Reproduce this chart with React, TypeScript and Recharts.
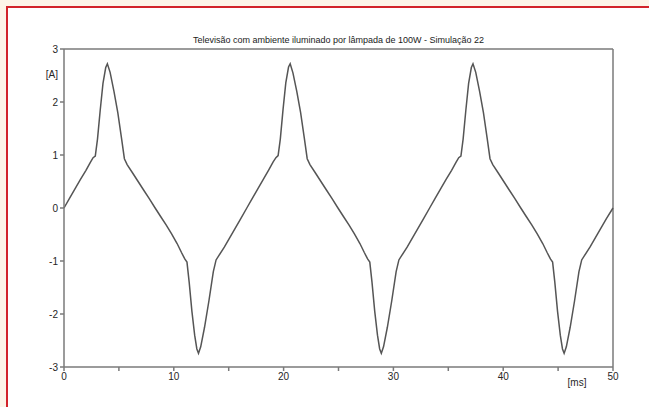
import React from 'react';
import { LineChart, Line, XAxis, YAxis, ReferenceLine } from 'recharts';

const chartTitle = 'Televisão com ambiente iluminado por lâmpada de 100W - Simulação 22';
const xUnit = '[ms]';
const yUnit = '[A]';

const timeMs = [
  0, 0.5, 1, 1.5, 2, 2.4, 2.65, 2.85, 3.05, 3.3, 3.55, 3.8, 3.95, 4.2, 4.55, 4.9, 5.25, 5.5, 5.75, 6.25, 6.75, 7.25, 7.75, 8.3,
  8.8, 9.3, 9.8, 10.3, 10.7, 11.0, 11.2, 11.4, 11.65, 11.9, 12.1, 12.25, 12.45, 12.8, 13.2, 13.6, 13.85, 14.1, 14.6, 15.1, 15.6, 16.1, 16.65,
  17.15, 17.65, 18.15, 18.65, 19.05, 19.3, 19.5, 19.7, 19.95, 20.2, 20.45, 20.6, 20.85, 21.2, 21.55, 21.9, 22.15, 22.4, 22.9, 23.4, 23.9, 24.4, 24.95,
  25.45, 25.95, 26.45, 26.95, 27.35, 27.65, 27.85, 28.05, 28.3, 28.55, 28.75, 28.9, 29.1, 29.45, 29.85, 30.25, 30.5, 30.75, 31.25, 31.75, 32.25, 32.75, 33.3,
  33.8, 34.3, 34.8, 35.3, 35.7, 35.95, 36.15, 36.35, 36.6, 36.85, 37.1, 37.25, 37.5, 37.85, 38.2, 38.55, 38.8, 39.05, 39.55, 40.05, 40.55, 41.05, 41.6,
  42.1, 42.6, 43.1, 43.6, 44.0, 44.3, 44.5, 44.7, 44.95, 45.2, 45.4, 45.55, 45.75, 46.1, 46.5, 46.9, 47.15, 47.4, 47.9, 48.4, 48.9, 49.4, 50,
];

const currentA = [
  0, 0.18, 0.36, 0.54, 0.71, 0.86, 0.95, 0.98, 1.3, 1.85, 2.35, 2.65, 2.72, 2.56, 2.2, 1.8, 1.3, 0.93, 0.82, 0.66, 0.5, 0.34, 0.18, 0.0,
  -0.16, -0.32, -0.49, -0.67, -0.84, -0.96, -1.02, -1.4, -1.95, -2.4, -2.66, -2.74, -2.62, -2.25, -1.75, -1.2, -0.98, -0.9, -0.74, -0.56, -0.38, -0.2, 0.0,
  0.18, 0.36, 0.54, 0.72, 0.87, 0.95, 0.99, 1.3, 1.86, 2.36, 2.66, 2.72, 2.55, 2.2, 1.8, 1.3, 0.93, 0.82, 0.66, 0.5, 0.34, 0.18, 0.0,
  -0.16, -0.32, -0.49, -0.67, -0.84, -0.96, -1.02, -1.4, -1.95, -2.4, -2.66, -2.74, -2.62, -2.25, -1.75, -1.2, -0.98, -0.9, -0.74, -0.56, -0.38, -0.2, 0.0,
  0.18, 0.36, 0.54, 0.71, 0.86, 0.95, 0.98, 1.3, 1.85, 2.35, 2.65, 2.72, 2.56, 2.2, 1.8, 1.3, 0.93, 0.82, 0.66, 0.5, 0.34, 0.18, 0.0,
  -0.16, -0.32, -0.49, -0.67, -0.84, -0.96, -1.02, -1.4, -1.95, -2.4, -2.66, -2.74, -2.62, -2.25, -1.75, -1.2, -0.98, -0.9, -0.74, -0.56, -0.38, -0.2, 0.0,
];

const xTicks = [0, 5, 10, 15, 20, 25, 30, 35, 40, 45, 50];
const yTicks = [-3, -2, -1, 0, 1, 2, 3];

const data = timeMs.map((t, i) => ({ t, v: currentA[i] }));

const axisColor = '#7a7a7a';
const textColor = '#262626';
const font = 'Arial, "Liberation Sans", sans-serif';

export default function App() {
  return (
    <div style={{ position: 'absolute', left: 0, top: 0, width: 649, height: 407, background: '#fdf4e8', overflow: 'hidden' }}>
      <div style={{ position: 'absolute', left: 6, top: 6, right: 0, bottom: 0, background: '#ffffff', borderLeft: '2px solid #d2232a', borderTop: '2px solid #d2232a' }} />
      <div style={{ position: 'absolute', left: 0, top: 0 }}>
        <LineChart width={649} height={407} data={data} margin={{ top: 49, right: 36, left: 34, bottom: 20 }}>
          <XAxis
            dataKey="t"
            type="number"
            domain={[0, 50]}
            ticks={xTicks}
            tickFormatter={(v: number) => (v % 10 === 0 ? String(v) : '')}
            stroke={axisColor}
            strokeWidth={1.5}
            tickSize={4}
            tickMargin={2}
            height={20}
            tick={{ fill: textColor, fontSize: 10, fontFamily: font }}
            interval={0}
          />
          <YAxis
            type="number"
            domain={[-3, 3]}
            ticks={yTicks}
            stroke={axisColor}
            strokeWidth={1.5}
            tickSize={4}
            tickMargin={2}
            width={30}
            tick={{ fill: textColor, fontSize: 10, fontFamily: font }}
            interval={0}
          />
          <ReferenceLine y={3} stroke={axisColor} strokeWidth={1.5} />
          <ReferenceLine x={50} stroke={axisColor} strokeWidth={1.5} />
          <Line dataKey="v" type="linear" stroke="#555555" strokeWidth={1.5} dot={false} isAnimationActive={false} />
        </LineChart>
      </div>
      <div style={{ position: 'absolute', left: 64, top: 35, width: 549, textAlign: 'center', fontFamily: font, fontSize: 9, color: '#1a1a1a', whiteSpace: 'nowrap' }}>
        {chartTitle}
      </div>
      <div style={{ position: 'absolute', left: 38, top: 69, width: 20, textAlign: 'right', fontFamily: font, fontSize: 10, color: textColor }}>
        {yUnit}
      </div>
      <div style={{ position: 'absolute', left: 566, top: 377, width: 22, textAlign: 'center', fontFamily: font, fontSize: 10, color: textColor }}>
        {xUnit}
      </div>
    </div>
  );
}
